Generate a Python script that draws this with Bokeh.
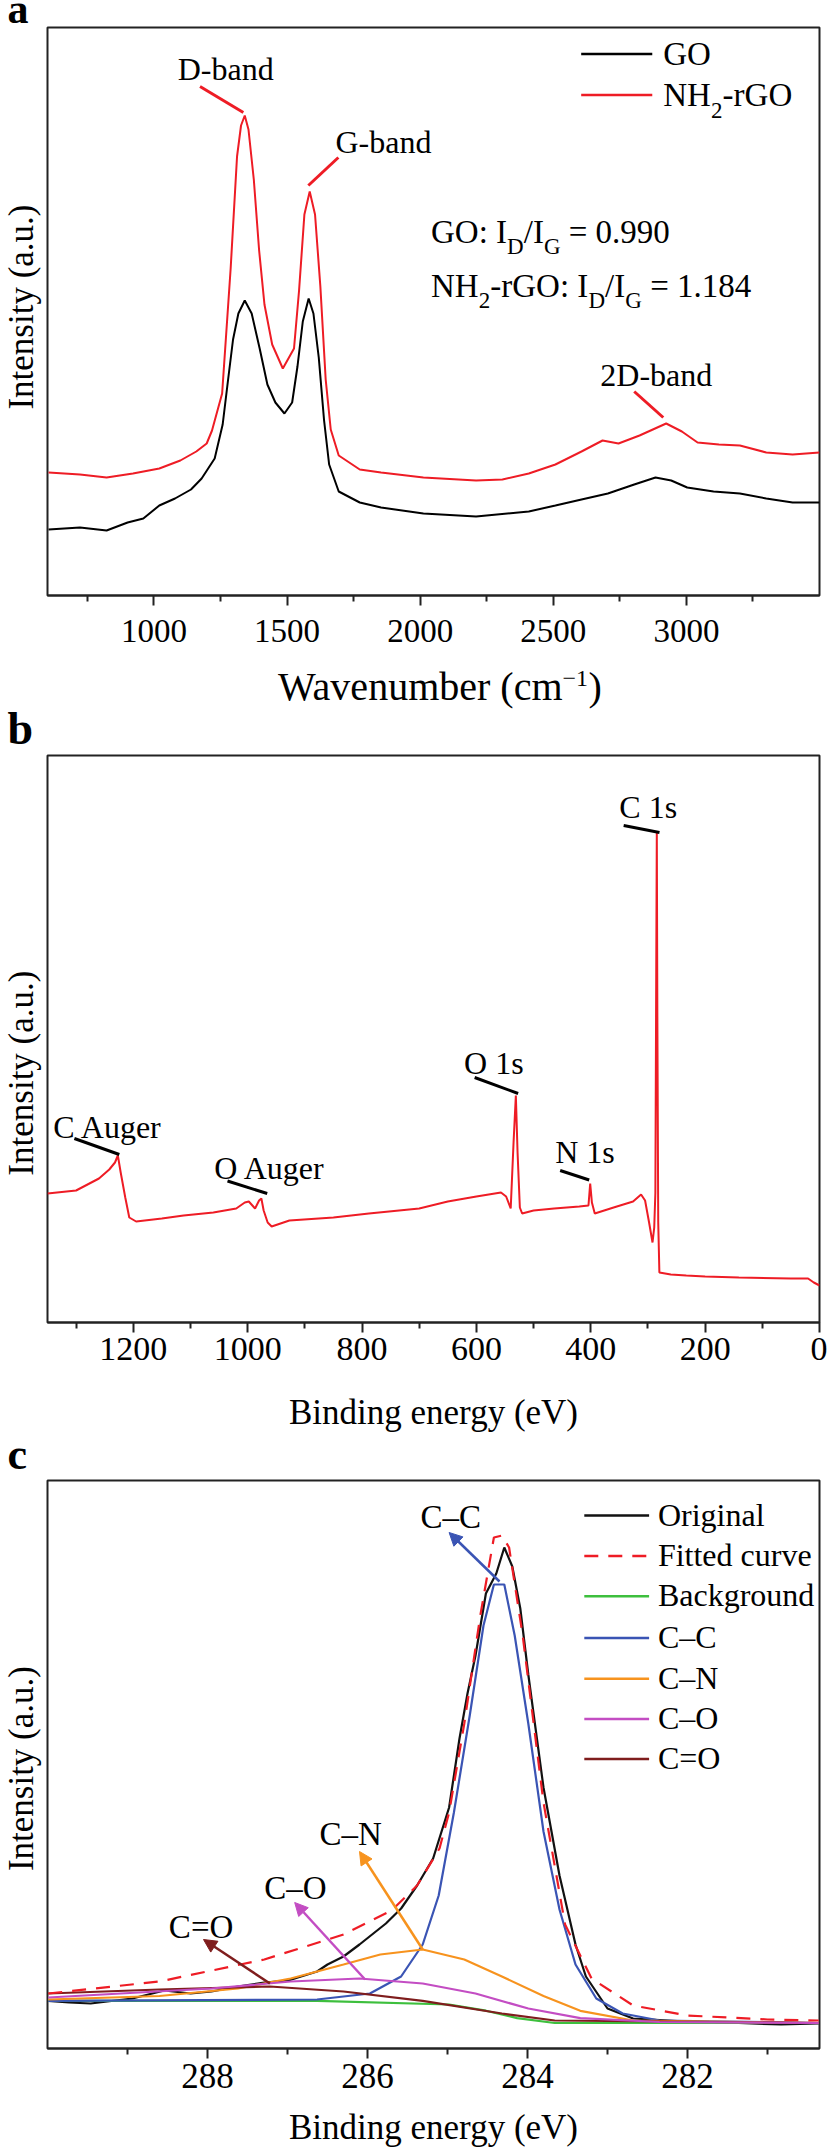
import math
from bokeh.plotting import figure
from bokeh.models import Range1d, FixedTicker, Label, Arrow, NormalHead
from bokeh.layouts import column, row
from bokeh.embed import file_html
from bokeh.resources import INLINE

SERIF = "Liberation Serif"
RED = "#ee1c25"
FRAME = "#222222"

# ---------------- panel a : Raman ----------------
raman_ticks = [1000, 1500, 2000, 2500, 3000]
raman_minor = [750, 1250, 1750, 2250, 2750, 3250]
go_x = [604, 722, 822, 901, 960, 1020, 1079, 1139, 1179, 1228,
        1258, 1278, 1297, 1317, 1341, 1367, 1397, 1426, 1456, 1490,
        1519, 1539, 1559, 1581, 1599, 1619, 1639, 1658, 1694, 1773,
        1853, 2012, 2210, 2408, 2508, 2606, 2705, 2804, 2884, 2943,
        3003, 3102, 3201, 3300, 3399, 3500]
go_y = [66, 68, 65, 73, 77, 90, 97, 106, 117, 137,
        171, 215, 256, 282, 295, 282, 247, 211, 193, 182,
        193, 229, 274, 297, 282, 238, 175, 131, 104, 93,
        88, 82, 79, 84, 90, 96, 102, 111, 118, 115,
        108, 104, 102, 97, 93, 93]
nh2_x = [604, 722, 822, 921, 1020, 1099, 1159, 1198, 1218, 1256,
         1288, 1312, 1327, 1341, 1355, 1375, 1395, 1415, 1444, 1484,
         1526, 1545, 1565, 1585, 1605, 1625, 1645, 1664, 1694, 1773,
         1853, 2012, 2210, 2309, 2408, 2508, 2606, 2685, 2745, 2824,
         2924, 2983, 3042, 3122, 3201, 3300, 3399, 3500]
nh2_y = [123, 121, 118, 122, 127, 135, 144, 152, 165, 202,
         327, 439, 470, 480, 466, 416, 345, 291, 251, 227,
         247, 305, 381, 404, 381, 309, 216, 166, 140, 126,
         123, 118, 115, 116, 122, 131, 144, 155, 152, 160,
         172, 164, 153, 151, 150, 143, 141, 143]

# ---------------- panel b : XPS survey ----------------
survey_ticks = [0, 200, 400, 600, 800, 1000, 1200]
survey_minor = [100, 300, 500, 700, 900, 1100, 1300]
survey_x = [1350, 1300, 1260, 1242, 1232, 1227, 1222, 1214, 1207, 1195,
            1150, 1112, 1060, 1020, 1005, 998, 987, 980, 976, 972,
            965, 958, 927, 850, 788, 700, 650, 600, 557, 548,
            540, 535, 531, 528, 524, 520, 500, 464, 420, 404,
            401, 398, 393, 360, 326, 312, 305, 298, 292, 289,
            287, 285.5, 284.5, 283.5, 282, 280, 260, 233, 200, 141,
            50, 20, 10, 0]
survey_y = [129, 132, 144, 153, 160, 167, 150, 125, 105, 101,
            104, 107, 110, 114, 120, 121, 114, 122, 124, 112,
            100, 96, 102, 105, 109, 114, 121, 126, 130, 126,
            114, 180, 227, 170, 115, 109, 112, 114, 116, 117,
            139, 120, 109, 115, 121, 128, 122, 100, 80, 95,
            130, 350, 490, 300, 100, 50, 48, 47, 46, 45,
            44, 44, 40, 37]

# ---------------- panel c : C 1s fit ----------------
c1s_ticks = [282, 284, 286, 288]
c1s_minor = [281, 283, 285, 287, 289]
orig_x = [289.99, 289.73, 289.46, 288.94, 288.54, 288.21, 287.95, 287.62, 287.29, 286.99,
          286.83, 286.63, 286.5, 286.3, 286.1, 285.77, 285.58, 285.38, 285.18, 284.98,
          284.85, 284.75, 284.65, 284.52, 284.39, 284.29, 284.19, 284.09, 283.99, 283.8,
          283.6, 283.4, 283.27, 283.0, 282.68, 282.02, 281.36, 280.83, 280.36]
orig_y = [47.6, 46, 45, 50, 58, 55, 57, 62, 66, 68,
          72, 77, 84, 92, 104, 125, 140, 163, 190, 241,
          310, 355, 393, 455, 475, 501, 482, 440, 374, 261,
          173, 104, 72, 40, 30, 27, 25.5, 24, 25]
fit_x = [289.99, 288.6, 287.29, 286.3, 285.7, 285.38, 285.1, 284.98, 284.79, 284.59,
         284.42, 284.32, 284.23, 284.06, 283.8, 283.53, 283.2, 282.68, 282.0, 281.0, 280.36]
fit_y = [55, 67, 89, 114, 138, 163, 200, 236, 325, 433,
         511, 513, 501, 413, 246, 124, 70, 43, 33, 29, 28]
bg_x = [289.99, 286.63, 284.98, 284.52, 284.13, 283.66, 280.36]
bg_y = [47.6, 47.6, 44, 37.8, 30.4, 25.5, 25.5]
cc_x = [289.99, 286.63, 285.97, 285.58, 285.31, 285.11, 284.92, 284.72, 284.55, 284.42,
        284.29, 284.16, 283.99, 283.8, 283.6, 283.4, 283.14, 282.81, 282.35, 280.36]
cc_y = [47.6, 49, 55, 72, 104, 153, 236, 334, 423, 464,
        464, 413, 325, 217, 139, 84, 50, 35, 28, 25.5]
cn_x = [289.99, 288.6, 287.62, 286.96, 286.3, 285.84, 285.31, 284.79, 284.32, 283.8,
        283.34, 282.68, 280.36]
cn_y = [49, 52.5, 60, 70, 84, 94, 99, 89, 72, 52.5, 37.7, 28, 25.5]
co_x = [289.99, 287.95, 286.96, 286.1, 285.31, 284.65, 283.99, 283.34, 282.35, 280.36]
co_y = [51, 60, 67, 70, 65, 55, 40, 30.4, 26.5, 25.5]
c2o_x = [289.99, 288.6, 287.22, 286.3, 285.31, 284.32, 283.66, 280.36]
c2o_y = [55, 59, 62, 57, 47.6, 35, 28, 25.5]

C_ORIG = "#111111"
C_BG = "#3dbf3d"
C_CC = "#3a54b4"
C_CN = "#f7931e"
C_CO = "#c34dc3"
C_C2O = "#7f1d1d"

FULL_W = 827
SIDE_W = 46
MAIN_W = FULL_W - SIDE_W
BASE_K = 0.34   # text anchor correction (fraction of font size)


def make_fig(h, top, bottom, xr, yr, ticks, minor, tick_size, standoff):
    p = figure(width=MAIN_W, height=h, x_range=xr, y_range=yr,
               output_backend="svg", toolbar_location=None,
               y_axis_location=None,
               min_border_left=1, min_border_right=8,
               min_border_top=top, min_border_bottom=bottom)
    p.xgrid.visible = False
    p.ygrid.visible = False
    p.outline_line_color = FRAME
    p.outline_line_width = 2
    p.outline_line_alpha = 1
    p.background_fill_color = "white"
    p.border_fill_color = "white"
    ax = p.xaxis[0]
    ax.ticker = FixedTicker(ticks=ticks, minor_ticks=minor)
    ax.axis_line_color = FRAME
    ax.axis_line_width = 2
    ax.major_tick_line_color = FRAME
    ax.minor_tick_line_color = FRAME
    ax.major_tick_line_width = 2
    ax.minor_tick_line_width = 2
    ax.major_tick_in = 0
    ax.major_tick_out = 10
    ax.minor_tick_in = 0
    ax.minor_tick_out = 6
    ax.major_label_text_font = SERIF
    ax.major_label_text_font_size = tick_size
    ax.major_label_text_color = "black"
    ax.major_label_standoff = standoff
    return p


def strip(w, h):
    s = figure(width=w, height=h, x_range=Range1d(0, w), y_range=Range1d(0, h),
               output_backend="svg", toolbar_location=None,
               x_axis_location=None, y_axis_location=None, min_border=0)
    s.outline_line_color = None
    s.xgrid.visible = False
    s.ygrid.visible = False
    s.background_fill_color = "white"
    s.border_fill_color = "white"
    return s


def lab(p, x, y, text, size, align="left", bold=False, color="black"):
    # y is the wanted baseline (all ranges here are 1 unit per pixel vertically)
    p.add_layout(Label(x=x, y=y + BASE_K * size, text=text, text_font=SERIF,
                       text_font_size=f"{size}px", text_align=align,
                       text_baseline="alphabetic",
                       text_font_style="bold" if bold else "normal",
                       text_color=color))


def vlab(p, x, y, text, size):
    p.add_layout(Label(x=x, y=y, text=text, text_font=SERIF,
                       text_font_size=f"{size}px", text_align="center",
                       text_baseline="alphabetic", angle=math.pi / 2,
                       text_color="black"))


# ================= panel a =================
pa = make_fig(636, 1, 67, Range1d(600, 3500), Range1d(0, 568),
              raman_ticks, raman_minor, "33px", 14)
pa.line(go_x, go_y, line_color="black", line_width=2)
pa.line(nh2_x, nh2_y, line_color=RED, line_width=2)

a_lead_x0 = [1173, 1692.6, 2804]
a_lead_y0 = [509, 438, 204]
a_lead_x1 = [1335.7, 1579.8, 2913]
a_lead_y1 = [483, 410, 178]
pa.segment(a_lead_x0, a_lead_y0, a_lead_x1, a_lead_y1, line_color=RED, line_width=3)
lab(pa, 1269.5, 516, "D-band", 32, align="center")
lab(pa, 1862, 443, "G-band", 32, align="center")
lab(pa, 2887, 210, "2D-band", 32, align="center")

lab(pa, 2040.6, 352, "GO: I", 33)
lab(pa, 2326.4, 341, "D", 23)
lab(pa, 2388.9, 352, "/I", 33)
lab(pa, 2464.8, 341, "G", 23)
lab(pa, 2558.1, 352, "= 0.990", 33)
lab(pa, 2040.6, 298, "NH", 33)
lab(pa, 2220.0, 287, "2", 23)
lab(pa, 2263.3, 298, "-rGO: I", 33)
lab(pa, 2631.8, 287, "D", 23)
lab(pa, 2694.3, 298, "/I", 33)
lab(pa, 2770.3, 287, "G", 23)
lab(pa, 2863.9, 298, "= 1.184", 33)

pa.segment([2604.8, 2604.8], [541.4, 500.4], [2871.8, 2871.8], [541.4, 500.4],
           line_color=["black", RED], line_width=2.5)
lab(pa, 2913.2, 530, "GO", 33)
lab(pa, 2913.2, 489, "NH", 33)
lab(pa, 3092.6, 477, "2", 23)
lab(pa, 3135.9, 489, "-rGO", 33)

ya = strip(SIDE_W, 636)
vlab(ya, 21, 323, "Intensity (a.u.)", 35)

strip_a = strip(FULL_W, 26)
lab(strip_a, 7, 3, "a", 42, bold=True)

strip_ab = strip(FULL_W, 92)
lab(strip_ab, 562, 54, "Wavenumber (cm", 40, align="right")
lab(strip_ab, 562, 68, "\u22121", 24)
lab(strip_ab, 588, 54, ")", 40)
lab(strip_ab, 7, 10, "b", 46, bold=True)

# ================= panel b =================
pb = make_fig(632, 1, 64, Range1d(1350, 0), Range1d(0, 567),
              survey_ticks, survey_minor, "34px", 5)
pb.line(survey_x, survey_y, line_color=RED, line_width=2)
b_lead_x0 = [342.5, 603, 453.5, 1303, 1035.2]
b_lead_y0 = [497, 245, 152, 184, 141.5]
b_lead_x1 = [279.8, 527, 402.7, 1224.4, 965.8]
b_lead_y1 = [490, 229, 142.5, 168, 129]
pb.segment(b_lead_x0, b_lead_y0, b_lead_x1, b_lead_y1, line_color="black", line_width=3)
lab(pb, 350, 505, "C 1s", 32)
lab(pb, 621.6, 249, "O 1s", 32)
lab(pb, 462.2, 160, "N 1s", 32)
lab(pb, 1340, 185, "C Auger", 32)
lab(pb, 1058.3, 144, "O Auger", 32)

yb = strip(SIDE_W, 632)
vlab(yb, 21, 278, "Intensity (a.u.)", 35)

strip_bc = strip(FULL_W, 93)
lab(strip_bc, 433, 55, "Binding energy (eV)", 35, align="center")
lab(strip_bc, 7, 10, "c", 44, bold=True)

# ================= panel c =================
pc = make_fig(627, 1, 58, Range1d(290, 280.35), Range1d(0, 568),
              c1s_ticks, c1s_minor, "35px", 5)
pc.line(orig_x, orig_y, line_color=C_ORIG, line_width=2.2)
pc.line(bg_x, bg_y, line_color=C_BG, line_width=2.2)
pc.line(cc_x, cc_y, line_color=C_CC, line_width=2.2)
pc.line(cn_x, cn_y, line_color=C_CN, line_width=2.2)
pc.line(c2o_x, c2o_y, line_color=C_C2O, line_width=2.2)
pc.line(co_x, co_y, line_color=C_CO, line_width=2.2)
pc.line(fit_x, fit_y, line_color=RED, line_width=2.2, line_dash="14 10")

arrow_colors = [C_CC, C_CN, C_CO, C_C2O]
arrow_x0 = [284.35, 285.31, 286.03, 287.22]
arrow_y0 = [467, 99, 69, 65]
arrow_x1 = [284.98, 286.1, 286.91, 288.05]
arrow_y1 = [516, 197, 146, 109]
for c, xs, ys, xe, ye in zip(arrow_colors, arrow_x0, arrow_y0, arrow_x1, arrow_y1):
    pc.add_layout(Arrow(end=NormalHead(size=13, fill_color=c, line_color=c),
                        x_start=xs, y_start=ys, x_end=xe, y_end=ye,
                        line_color=c, line_width=2.5))
lab(pc, 284.96, 520, "C\u2013C", 33, align="center")
lab(pc, 286.21, 203, "C\u2013N", 33, align="center")
lab(pc, 286.9, 149, "C\u2013O", 33, align="center")
lab(pc, 288.08, 110, "C=O", 33, align="center")

legend_names = ["Original", "Fitted curve", "Background", "C\u2013C", "C\u2013N", "C\u2013O", "C=O"]
legend_colors = [C_ORIG, RED, C_BG, C_CC, C_CN, C_CO, C_C2O]
legend_rows = [533.1, 492.4, 452.2, 410.5, 369.8, 329.6, 289.4]
for i, (nm, col, ry) in enumerate(zip(legend_names, legend_colors, legend_rows)):
    if i == 1:
        pc.line([283.29, 282.48], [ry, ry], line_color=col, line_width=2.5, line_dash="14 10")
    else:
        pc.line([283.29, 282.48], [ry, ry], line_color=col, line_width=2.5)
    lab(pc, 282.37, ry - 10, nm, 32)

yc = strip(SIDE_W, 627)
vlab(yc, 21, 309, "Intensity (a.u.)", 35)

strip_c = strip(FULL_W, 43)
lab(strip_c, 433, 10, "Binding energy (eV)", 35, align="center")

layout = column(strip_a, row(ya, pa), strip_ab, row(yb, pb),
                strip_bc, row(yc, pc), strip_c)
open("out.html", "w").write(file_html(layout, INLINE))
